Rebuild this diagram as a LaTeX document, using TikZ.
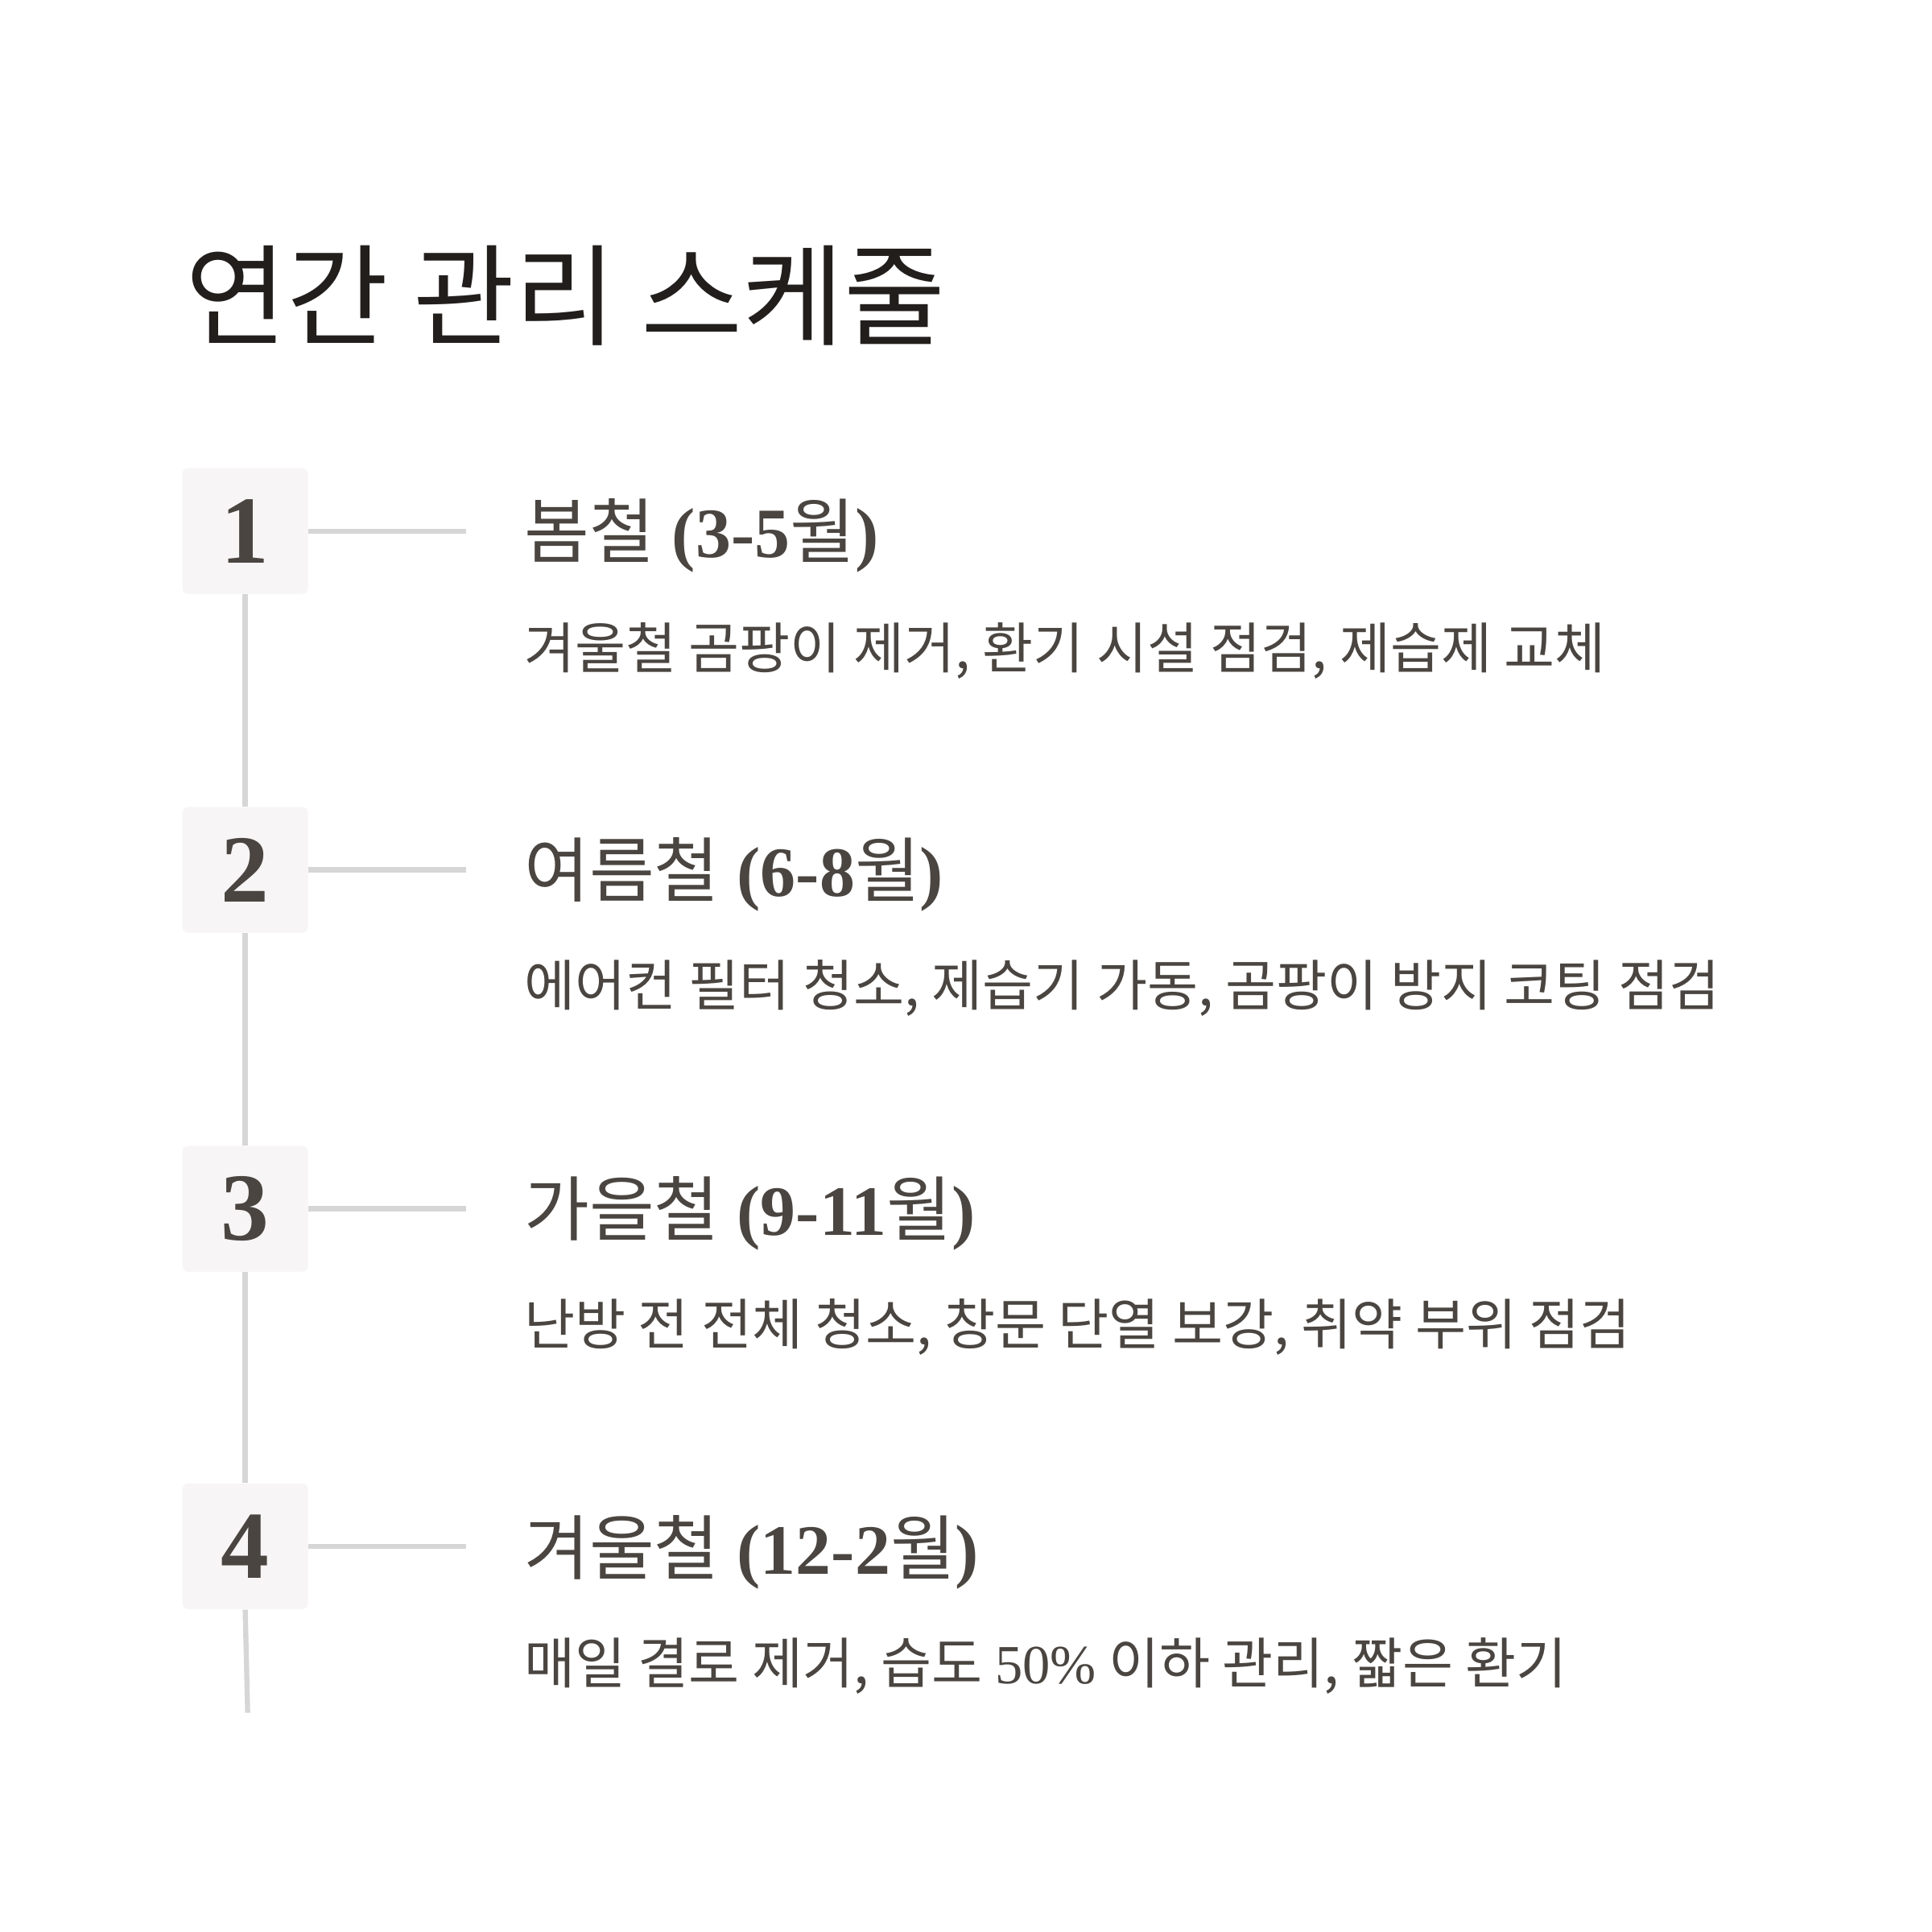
\documentclass[tikz,border=0pt]{standalone}
\usepackage{fontspec}
\setmainfont{Liberation Serif}
\newfontfamily\kr{Noto Sans CJK KR}
\definecolor{ink}{HTML}{4A4540}
\definecolor{title}{HTML}{221E1C}
\definecolor{boxbg}{HTML}{F7F5F5}
\definecolor{rule}{HTML}{D6D6D6}
\tikzset{
  numbox/.style={fill=boxbg,rounded corners=2pt,minimum size=1.56cm,inner sep=0pt,font=\fontsize{34}{34}\selectfont\bfseries,text=ink},
  conn/.style={draw=rule,line width=1.8pt},
  head/.style={anchor=west,inner sep=0pt,text=ink,font=\fontsize{25}{25}\selectfont},
  desc/.style={anchor=west,inner sep=0pt,text=ink,font=\kr\fontsize{19.5}{20}\selectfont},
}
\begin{document}
\begin{tikzpicture}[x=0.015306cm,y=-0.015306cm]
\useasboundingbox[fill=white] (0,0) rectangle (1568,1568);
\node[anchor=west,inner sep=0pt,text=title,font=\kr\fontsize{39}{40}\selectfont] (t) at (150,240) {연간 관리 스케줄};
\foreach \i/\y in {1/431,2/706,3/981,4/1255}{
  \node[numbox] (b\i) at (199,\y) {\i};
  \coordinate (e\i) at (378,\y);
  \draw[conn] (b\i.east) -- (e\i);
}
\draw[conn] (b1.south) -- (b2.north);
\draw[conn] (b2.south) -- (b3.north);
\draw[conn] (b3.south) -- (b4.north);
\coordinate (end) at (201,1390);
\draw[conn] (b4.south) -- (end);
\node[head] (h1) at (425,435) {{\kr 봄철} \textbf{(3-5}{\kr 월}\textbf{)}};
\node[desc] (d1) at (425,528) {겨울철 곰팡이 제거, 환기 시설 점검, 제습제 교체};
\node[head] (h2) at (425,710) {{\kr 여름철} \textbf{(6-8}{\kr 월}\textbf{)}};
\node[desc] (d2) at (425,802) {에어컨 필터 청소, 제습기 가동, 곰팡이 방지 코팅 점검};
\node[head] (h3) at (425,985) {{\kr 가을철} \textbf{(9-11}{\kr 월}\textbf{)}};
\node[desc] (d3) at (425,1077) {난방 전 전체 청소, 창문 단열 보강, 취약 부위 점검};
\node[head] (h4) at (425,1260) {{\kr 겨울철} \textbf{(12-2}{\kr 월}\textbf{)}};
\node[desc] (d4) at (425,1352) {매일 결로 제거, 습도 {\rmfamily 50\%} 이하 관리, 짧은 환기};
\end{tikzpicture}
\end{document}
